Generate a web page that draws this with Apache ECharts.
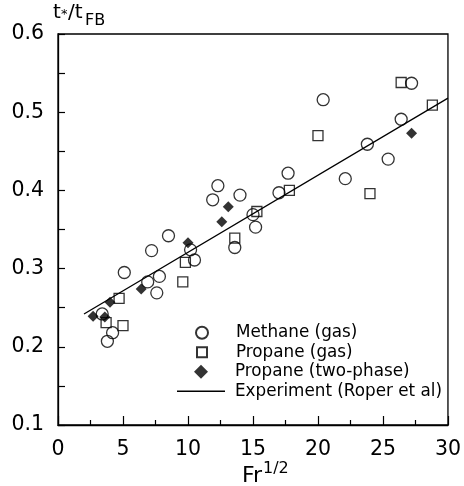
<!DOCTYPE html>
<html>
<head>
<meta charset="utf-8">
<script src="https://cdn.jsdelivr.net/npm/echarts@6/dist/echarts.min.js"></script>
<style>
  html, body { margin: 0; padding: 0; background: #fff; }
  #chart { width: 464px; height: 486px; }
</style>
</head>
<body>
<div id="chart"></div>
<script>
// values
const methaneX = [3.8, 4.2, 3.4, 5.1, 6.9, 7.8, 7.6, 7.2, 8.5, 10.5, 10.2, 11.9, 12.3, 14.0, 13.6, 15.0, 15.2, 17.0, 17.7, 20.4, 22.1, 23.8, 25.4, 26.4, 27.2]
const methaneY = [0.207, 0.218, 0.242, 0.295, 0.283, 0.290, 0.269, 0.323, 0.342, 0.311, 0.324, 0.388, 0.406, 0.394, 0.327, 0.369, 0.353, 0.397, 0.422, 0.516, 0.415, 0.459, 0.440, 0.491, 0.537]

const propaneX = [3.7, 5.0, 4.7, 9.6, 9.8, 13.6, 15.3, 17.8, 20.0, 24.0, 26.4, 28.8]
const propaneY = [0.231, 0.227, 0.262, 0.283, 0.308, 0.339, 0.373, 0.400, 0.470, 0.396, 0.538, 0.509]

const twoPhaseX = [2.7, 3.6, 4.0, 6.4, 10.0, 12.6, 13.1, 27.2]
const twoPhaseY = [0.239, 0.238, 0.257, 0.274, 0.333, 0.360, 0.379, 0.473]

const experimentX = [2, 30]
const experimentY = [0.242, 0.518]

const xTicks = [0, 5, 10, 15, 20, 25, 30]
const yTicks = [0.1, 0.2, 0.3, 0.4, 0.5, 0.6]

const names = ['Methane (gas)', 'Propane (gas)', 'Propane (two-phase)', 'Experiment (Roper et al)']

function pairs(xs, ys) {
  return xs.map((x, i) => [x, ys[i]])
}

const font = 'DejaVu Sans'
const hollow = { color: 'rgba(0,0,0,0)', borderColor: '#000', borderWidth: 1.3 }

// one legend per row so each icon keeps its own size; text always starts at x=235
const legendTop = 323
const rowH = 19.5
function legendRow(i, iconX, w, h, extra) {
  return Object.assign({
    orient: 'vertical', padding: 0,
    left: iconX, top: legendTop + i * rowH,
    itemWidth: w, itemHeight: h, itemGap: 0,
    textStyle: { fontSize: 16.8, lineHeight: rowH, color: '#000', padding: [0, 0, 0, 235 - iconX - w - 5] },
    data: [names[i]]
  }, extra || {})
}

const chart = echarts.init(document.getElementById('chart'))

chart.setOption({
  animation: false,
  textStyle: { fontFamily: font, color: '#000' },
  grid: {
    left: 58, right: 13, top: 34, bottom: 61,
    show: true, borderColor: '#000', borderWidth: 1.3, backgroundColor: 'transparent'
  },
  xAxis: {
    type: 'value',
    min: xTicks[0], max: xTicks[xTicks.length - 1], interval: 5,
    axisLine: { lineStyle: { color: '#000', width: 1.3 } },
    axisTick: { inside: true, length: 9, lineStyle: { color: '#000', width: 1.2 } },
    minorTick: { show: true, splitNumber: 2, length: 5, lineStyle: { color: '#000', width: 1.2 } },
    splitLine: { show: false },
    axisLabel: { fontSize: 20.5, color: '#000', margin: 14 }
  },
  yAxis: {
    type: 'value',
    min: yTicks[0], max: yTicks[yTicks.length - 1], interval: 0.1,
    axisLine: { lineStyle: { color: '#000', width: 1.3 } },
    axisTick: { inside: true, length: 7, lineStyle: { color: '#000', width: 1.2 } },
    minorTick: { show: true, splitNumber: 2, length: 7, lineStyle: { color: '#000', width: 1.2 } },
    splitLine: { show: false },
    axisLabel: { fontSize: 20.5, color: '#000', margin: 14, formatter: v => v.toFixed(1) }
  },
  legend: [
    legendRow(0, 195, 12, 12),
    legendRow(1, 196, 10, 10),
    legendRow(2, 194, 14, 14),
    legendRow(3, 177, 48, 1.3, { icon: 'rect' })
  ],
  graphic: [
    { type: 'text', left: 53, top: 3, style: { text: 't', font: '20px "DejaVu Sans"', fill: '#000' } },
    { type: 'text', left: 61, top: 8, style: { text: '*', font: '13px "DejaVu Sans"', fill: '#000' } },
    { type: 'text', left: 68, top: 3, style: { text: '/t', font: '20px "DejaVu Sans"', fill: '#000' } },
    { type: 'text', left: 85, top: 13, style: { text: 'FB', font: '16px "DejaVu Sans"', fill: '#000' } },
    { type: 'text', left: 242, top: 465, style: { text: 'Fr', font: '22px "DejaVu Sans"', fill: '#000' } },
    { type: 'text', left: 263, top: 461, style: { text: '1/2', font: '16px "DejaVu Sans"', fill: '#000' } }
  ],
  series: [
    {
      name: names[3], type: 'line', data: pairs(experimentX, experimentY),
      symbol: 'none', lineStyle: { color: '#000', width: 1.3 }, itemStyle: { color: '#000' }, z: 1
    },
    {
      name: names[0], type: 'scatter', data: pairs(methaneX, methaneY),
      symbol: 'circle', symbolSize: 12, itemStyle: hollow, z: 3
    },
    {
      name: names[1], type: 'scatter', data: pairs(propaneX, propaneY),
      symbol: 'rect', symbolSize: 10, itemStyle: hollow, z: 3
    },
    {
      name: names[2], type: 'scatter', data: pairs(twoPhaseX, twoPhaseY),
      symbol: 'diamond', symbolSize: 11, itemStyle: { color: '#000' }, z: 4
    }
  ]
})
</script>
</body>
</html>
